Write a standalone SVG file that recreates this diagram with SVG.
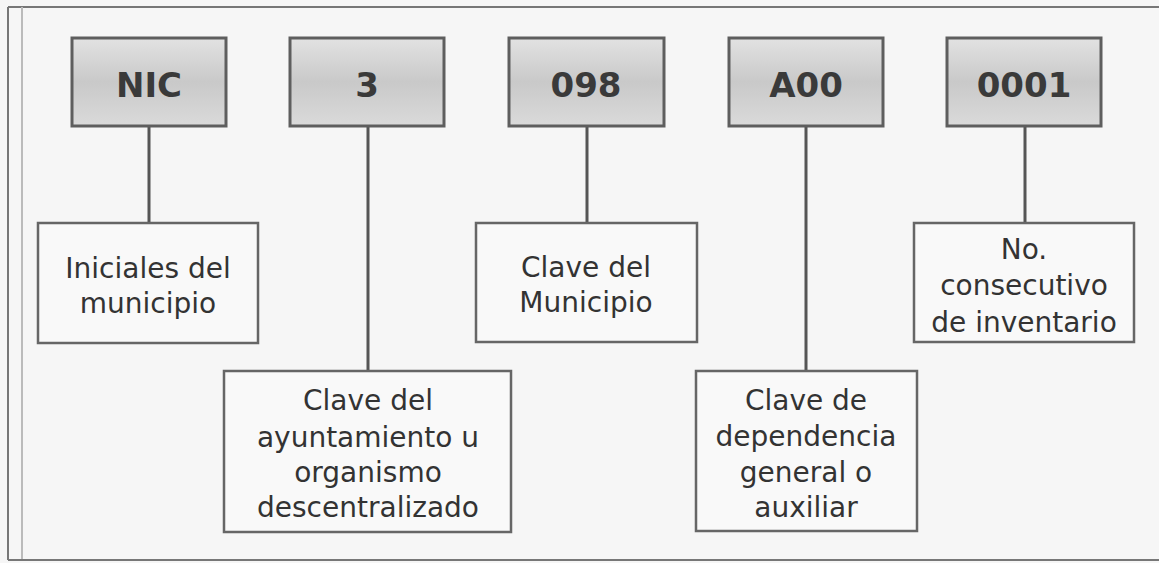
<svg xmlns="http://www.w3.org/2000/svg" width="1159" height="563" viewBox="0 0 1159 563">
<defs>
<linearGradient id="g" x1="0" y1="0" x2="0" y2="1">
<stop offset="0" stop-color="#e2e2e2"/>
<stop offset="0.5" stop-color="#c9c9c9"/>
<stop offset="1" stop-color="#dadada"/>
</linearGradient>
<style>
.top rect{fill:url(#g);stroke:#5e5e5e;stroke-width:3}
.top text{font-family:"DejaVu Sans",Verdana,sans-serif;font-weight:bold;font-size:34px;fill:#3a3a3a;text-anchor:middle}
.bot rect{fill:#f9f9f9;stroke:#666;stroke-width:2.5}
.bot text{font-family:"DejaVu Sans",Verdana,sans-serif;font-size:28px;fill:#333;text-anchor:middle}
#connectors line{stroke:#555;stroke-width:3}
.frame{stroke:#777;stroke-width:2;fill:none}
</style>
</defs>
<rect width="1159" height="563" fill="#f6f6f6"/>
<g id="frame">
<line class="frame" x1="8" y1="7" x2="1159" y2="7"/>
<line class="frame" x1="8" y1="7" x2="8" y2="560"/>
<line x1="22" y1="7" x2="22" y2="560" stroke="#bbb" stroke-width="2"/>
<line class="frame" x1="8" y1="560" x2="1159" y2="560"/>
</g>
<g id="connectors">
<line x1="149" y1="126" x2="149" y2="223"/>
<line x1="368" y1="126" x2="368" y2="371"/>
<line x1="587" y1="126" x2="587" y2="223"/>
<line x1="806" y1="126" x2="806" y2="371"/>
<line x1="1025" y1="126" x2="1025" y2="223"/>
</g>
<g id="n-nic" class="top"><rect x="72" y="38" width="154" height="88"/><text x="149" y="97">NIC</text></g>
<g id="n-3" class="top"><rect x="290" y="38" width="154" height="88"/><text x="367" y="97">3</text></g>
<g id="n-098" class="top"><rect x="509" y="38" width="155" height="88"/><text x="586" y="97">098</text></g>
<g id="n-a00" class="top"><rect x="729" y="38" width="154" height="88"/><text x="806" y="97">A00</text></g>
<g id="n-0001" class="top"><rect x="947" y="38" width="154" height="88"/><text x="1024" y="97">0001</text></g>
<g id="d-iniciales" class="bot"><rect x="38" y="223" width="220" height="120"/><text x="148" y="278">Iniciales del</text><text x="148" y="313">municipio</text></g>
<g id="d-ayuntamiento" class="bot"><rect x="224" y="371" width="287" height="161"/><text x="368" y="410">Clave del</text><text x="368" y="447">ayuntamiento u</text><text x="368" y="482">organismo</text><text x="368" y="517">descentralizado</text></g>
<g id="d-municipio" class="bot"><rect x="476" y="223" width="221" height="119"/><text x="586" y="277">Clave del</text><text x="586" y="312">Municipio</text></g>
<g id="d-dependencia" class="bot"><rect x="696" y="371" width="221" height="160"/><text x="806" y="410">Clave de</text><text x="806" y="446">dependencia</text><text x="806" y="482">general o</text><text x="806" y="517">auxiliar</text></g>
<g id="d-consecutivo" class="bot"><rect x="914" y="223" width="220" height="119"/><text x="1024" y="259">No.</text><text x="1024" y="295">consecutivo</text><text x="1024" y="332">de inventario</text></g>
</svg>
